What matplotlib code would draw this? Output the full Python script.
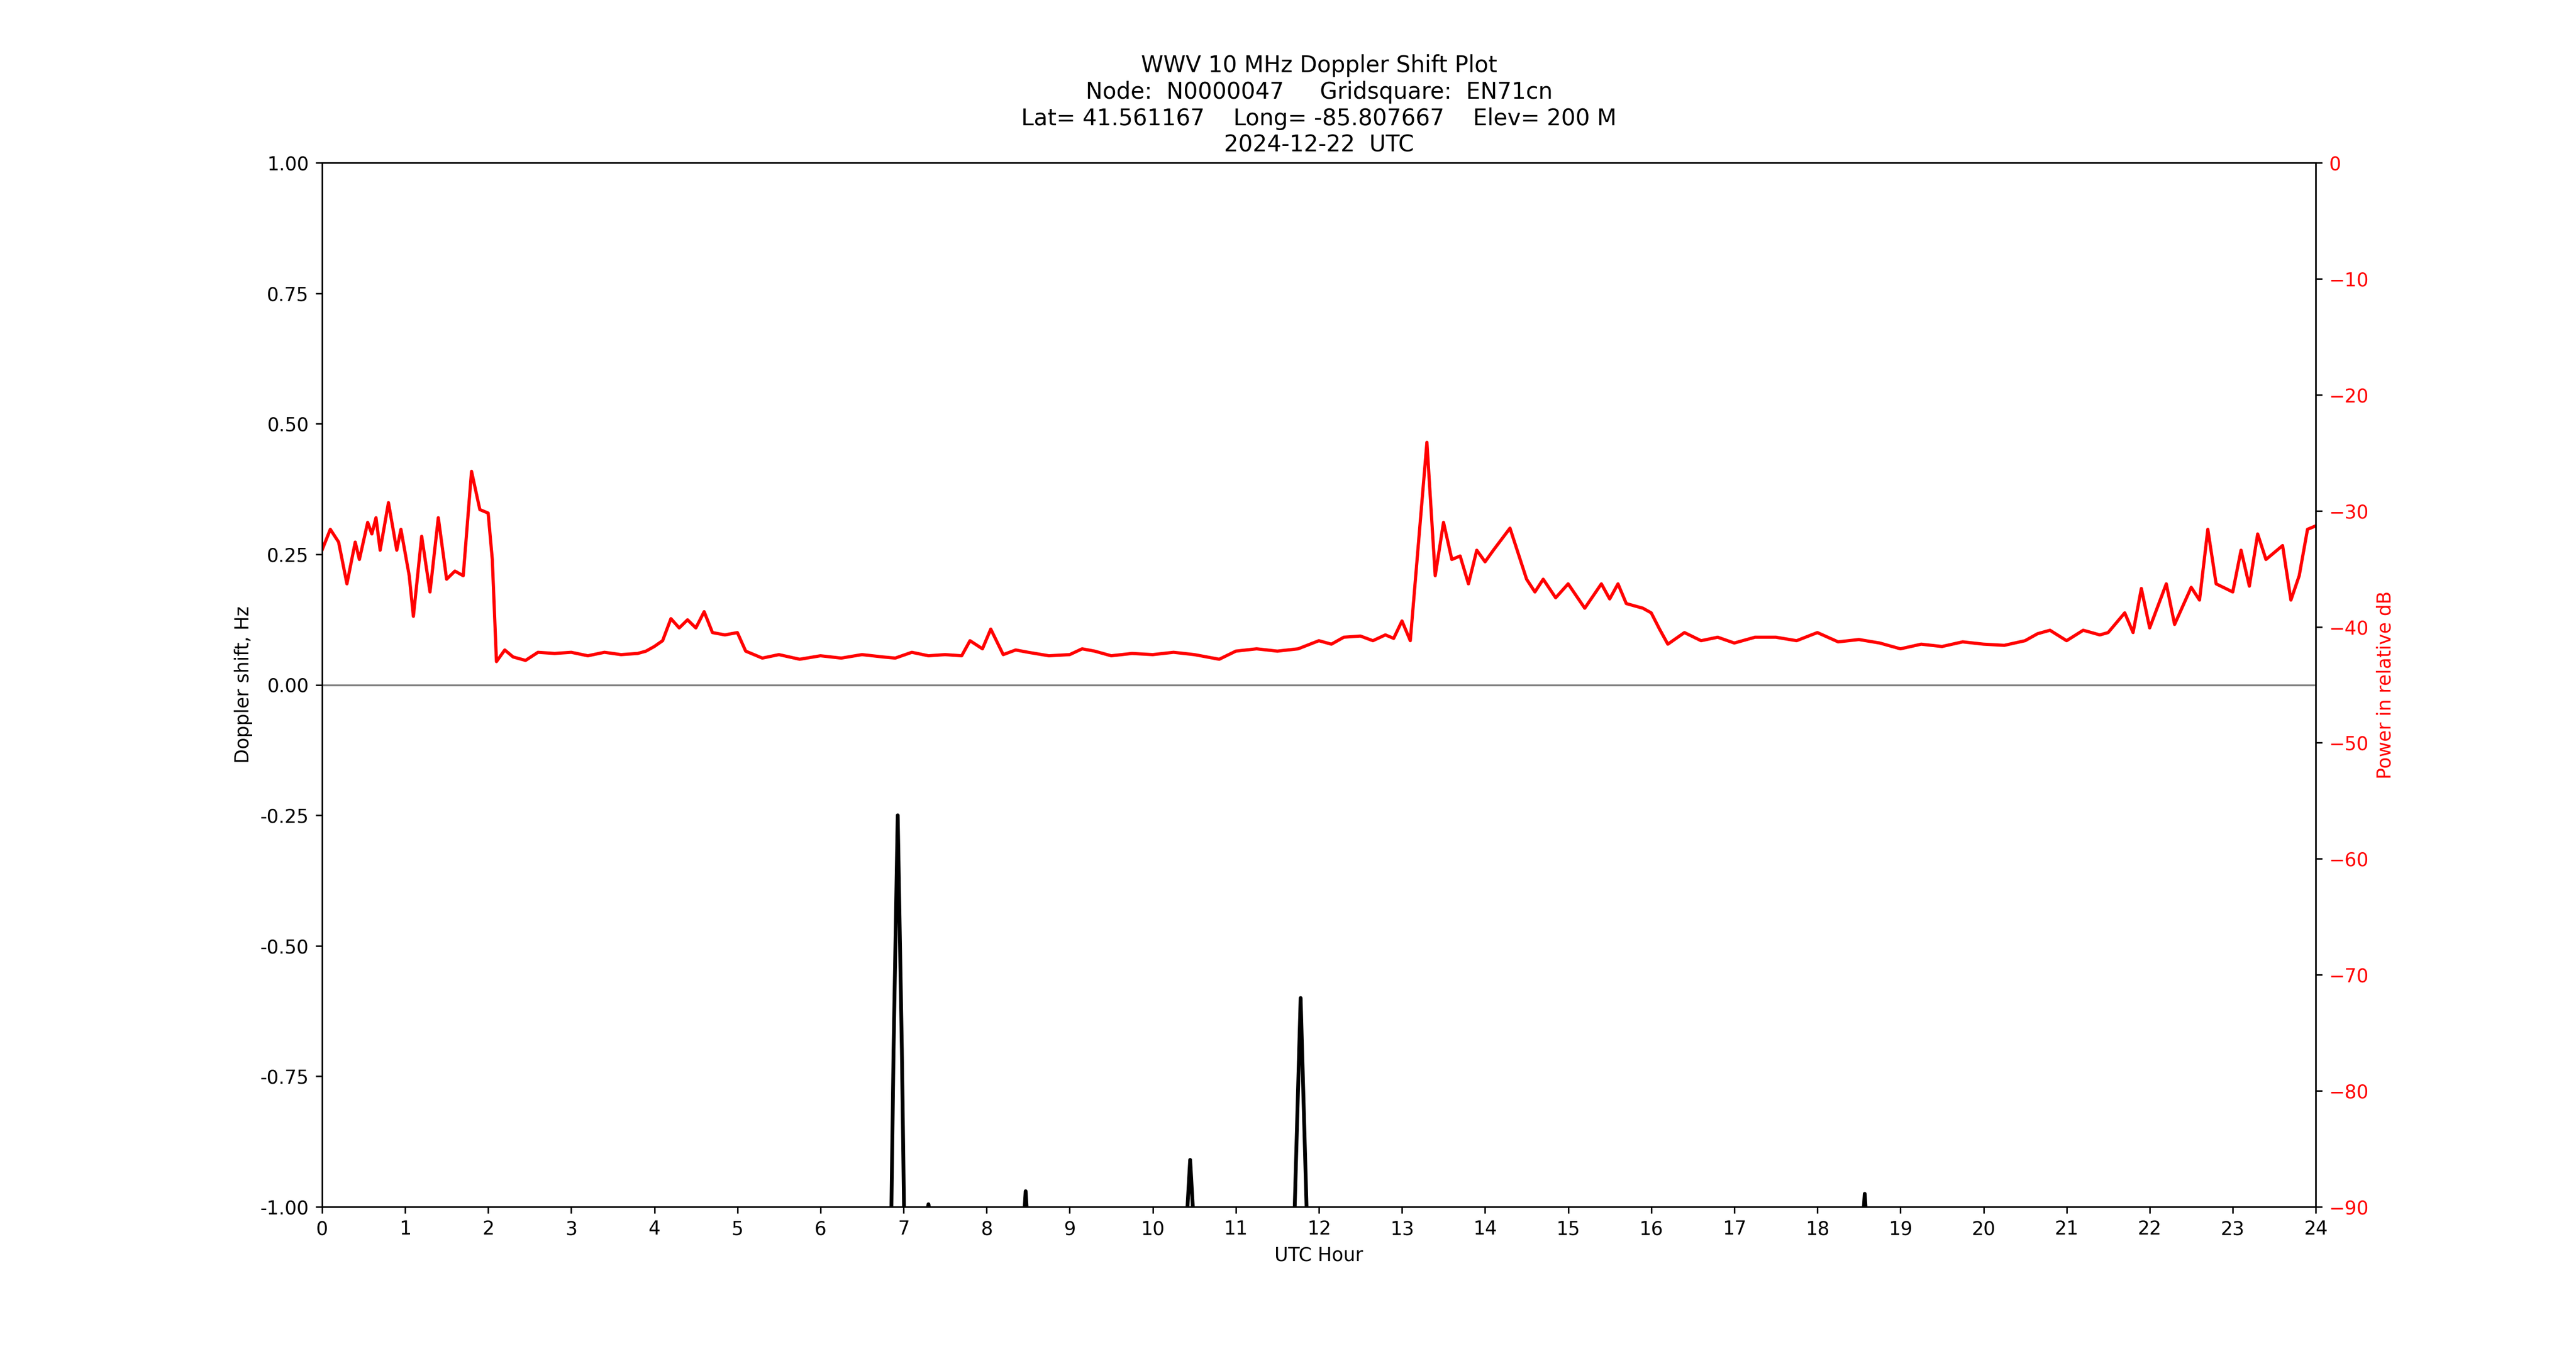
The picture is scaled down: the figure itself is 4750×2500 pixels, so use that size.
import numpy as np
import matplotlib
matplotlib.use("Agg")
import matplotlib.pyplot as plt

# Power (relative dB)
pwr_hours = [0, 0.1, 0.2, 0.3, 0.4, 0.45, 0.55, 0.6, 0.65, 0.7, 0.8, 0.9, 0.95, 1.05, 1.1,
             1.2, 1.3, 1.4, 1.5, 1.6, 1.7, 1.8, 1.9, 2.0, 2.05, 2.1, 2.2, 2.3, 2.45, 2.6,
             2.8, 3.0, 3.2, 3.4, 3.6, 3.8, 3.9, 4.0, 4.1, 4.2, 4.3, 4.4, 4.5, 4.6, 4.7,
             4.85, 5.0, 5.1, 5.3, 5.5, 5.75, 6.0, 6.25, 6.5, 6.75, 6.9, 7.1, 7.3, 7.5,
             7.7, 7.8, 7.95, 8.05, 8.2, 8.35, 8.5, 8.75, 9.0, 9.15, 9.3, 9.5, 9.75, 10.0,
             10.25, 10.5, 10.8, 11.0, 11.25, 11.5, 11.75, 12.0, 12.15, 12.3, 12.5, 12.65,
             12.8, 12.9, 13.0, 13.1, 13.3, 13.4, 13.5, 13.6, 13.7, 13.8, 13.9, 14.0,
             14.1, 14.3, 14.5, 14.6, 14.7, 14.85, 15.0, 15.2, 15.4, 15.5, 15.6, 15.7,
             15.9, 16.0, 16.1, 16.2, 16.4, 16.6, 16.8, 17.0, 17.25, 17.5, 17.75, 18.0,
             18.25, 18.5, 18.75, 19.0, 19.25, 19.5, 19.75, 20.0, 20.25, 20.5, 20.65,
             20.8, 21.0, 21.2, 21.4, 21.5, 21.7, 21.8, 21.9, 22.0, 22.2, 22.3, 22.5, 22.6,
             22.7, 22.8, 23.0, 23.1, 23.2, 23.3, 23.4, 23.6, 23.7, 23.8, 23.9, 24.0]
pwr_db = [-33.4, -31.6, -32.7, -36.3, -32.7, -34.2, -31.0, -32.0, -30.6, -33.4, -29.3,
          -33.4, -31.6, -35.6, -39.1, -32.2, -37.0, -30.6, -35.9, -35.2, -35.6, -26.6,
          -29.9, -30.2, -34.2, -43.0, -42.0, -42.6, -42.9, -42.2, -42.3, -42.2, -42.5,
          -42.2, -42.4, -42.3, -42.1, -41.7, -41.2, -39.3, -40.1, -39.4, -40.1, -38.7,
          -40.5, -40.7, -40.5, -42.1, -42.7, -42.4, -42.8, -42.5, -42.7, -42.4, -42.6,
          -42.7, -42.2, -42.5, -42.4, -42.5, -41.2, -41.9, -40.2, -42.4, -42.0, -42.2,
          -42.5, -42.4, -41.9, -42.1, -42.5, -42.3, -42.4, -42.2, -42.4, -42.8, -42.1,
          -41.9, -42.1, -41.9, -41.2, -41.5, -40.9, -40.8, -41.2, -40.7, -41.0, -39.5,
          -41.2, -24.1, -35.6, -31.0, -34.2, -33.9, -36.3, -33.4, -34.4, -33.4, -31.5,
          -35.9, -37.0, -35.9, -37.5, -36.3, -38.4, -36.3, -37.6, -36.3, -38.0, -38.4,
          -38.8, -40.2, -41.5, -40.5, -41.2, -40.9, -41.4, -40.9, -40.9, -41.2, -40.5,
          -41.3, -41.1, -41.4, -41.9, -41.5, -41.7, -41.3, -41.5, -41.6, -41.2, -40.6,
          -40.3, -41.2, -40.3, -40.7, -40.5, -38.8, -40.5, -36.7, -40.1, -36.3, -39.8,
          -36.6, -37.7, -31.6, -36.3, -37.0, -33.4, -36.5, -32.0, -34.2, -33.0, -37.7,
          -35.6, -31.6, -31.3]

# Doppler shift (Hz); baseline sits below the axis floor
dop_hours = [0, 6.85, 6.88, 6.93, 6.98, 7.01, 7.25, 7.3, 7.35, 8.44, 8.47, 8.5,
             10.4, 10.45, 10.5, 11.7, 11.78, 11.86, 18.54, 18.57, 18.6, 24.0]
dop_hz = [-1.05, -1.05, -0.7, -0.25, -0.7, -1.05, -1.05, -0.995, -1.05, -1.05, -0.97, -1.05,
          -1.05, -0.91, -1.05, -1.05, -0.6, -1.05, -1.05, -0.975, -1.05, -1.05]

fig, ax = plt.subplots(figsize=(19, 10), dpi=250)
plt.subplots_adjust(left=0.125, right=0.899, top=0.88, bottom=0.11)

ax.plot(dop_hours, dop_hz, color="black", linewidth=2)
ax.axhline(0, color="grey", linewidth=1)
ax.set_xlim(0, 24)
ax.set_ylim(-1, 1)
ax.set_xticks(range(0, 25))
ax.set_yticks(np.arange(-1, 1.01, 0.25))
ax.yaxis.set_major_formatter(matplotlib.ticker.FormatStrFormatter("%.2f"))
ax.set_xlabel("UTC Hour")
ax.set_ylabel("Doppler shift, Hz")
ax.set_title("WWV 10 MHz Doppler Shift Plot\n"
             "Node:  N0000047     Gridsquare:  EN71cn\n"
             "Lat= 41.561167    Long= -85.807667    Elev= 200 M\n"
             "2024-12-22  UTC")

ax2 = ax.twinx()
ax2.plot(pwr_hours, pwr_db, color="red", linewidth=1.7)
ax2.set_ylim(-90, 0)
ax2.set_ylabel("Power in relative dB", color="red")
ax2.tick_params(axis="y", labelcolor="red")

fig.savefig("out.png")
